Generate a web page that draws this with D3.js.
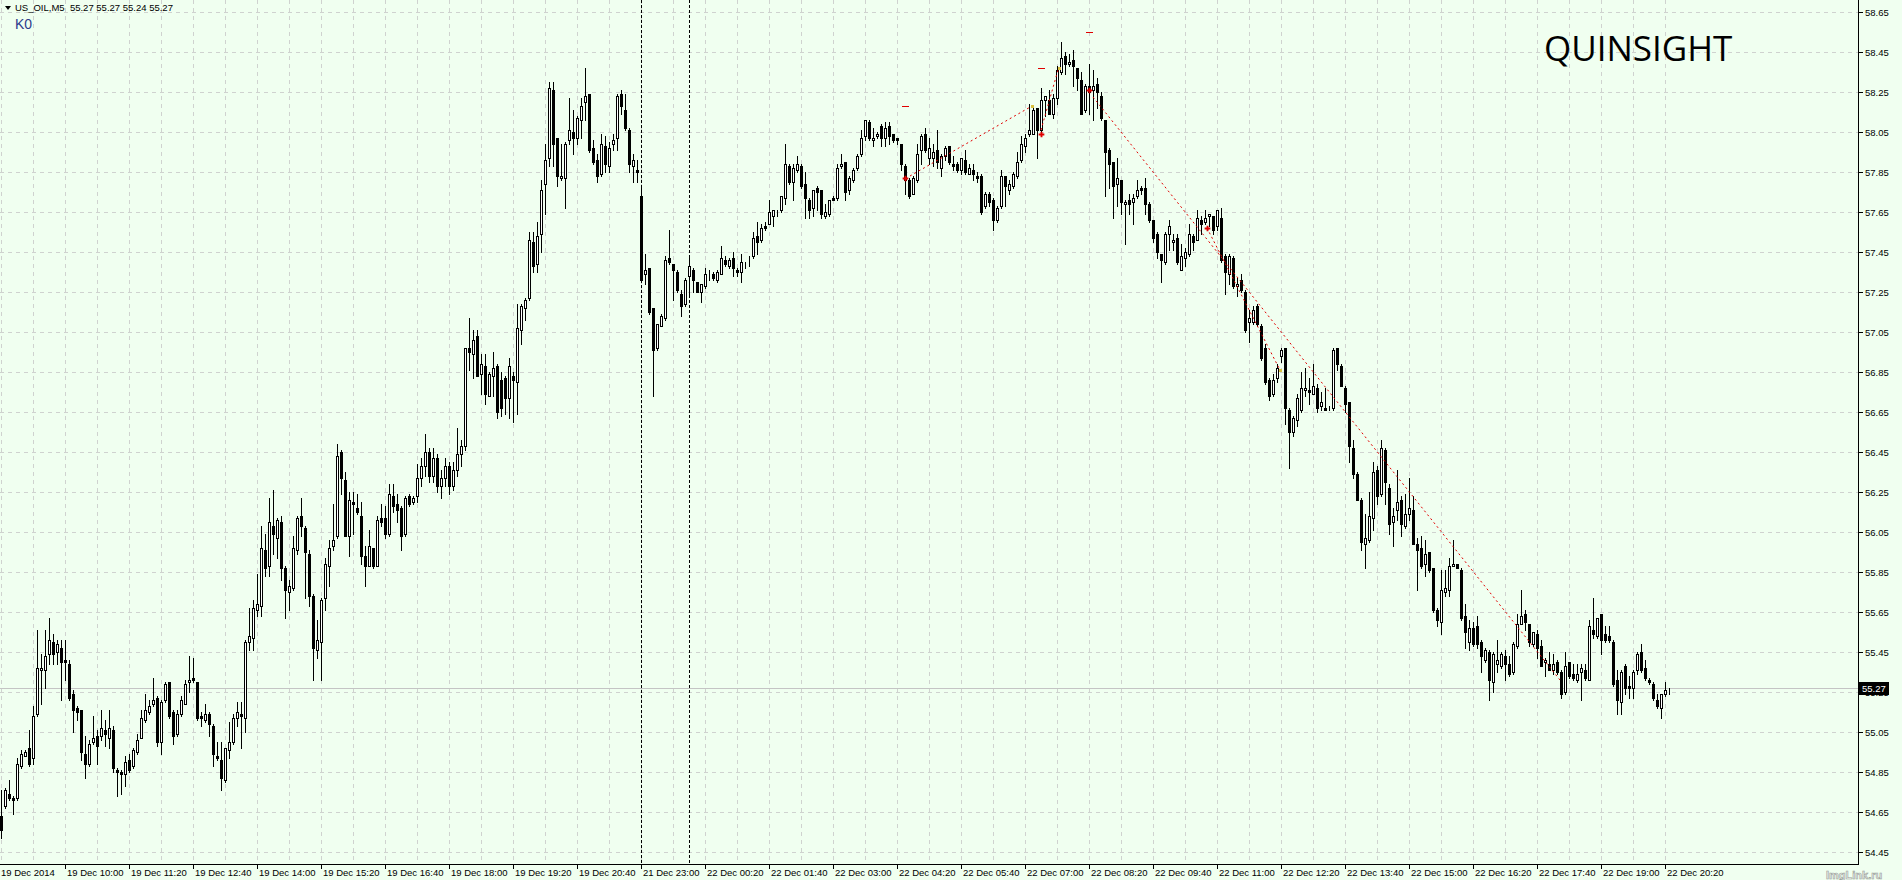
<!DOCTYPE html>
<html>
<head>
<meta charset="utf-8">
<script src="https://cdn.jsdelivr.net/npm/d3@7"></script>
<style>
html,body{margin:0;padding:0;background:#f0fff0;overflow:hidden}
text{font-family:"Liberation Sans",Arial,sans-serif}
</style>
</head>
<body>
<svg id="chart" width="1902" height="880"></svg>
<script>
// US_OIL M5 bars (oldest first)
let opens=[
54.63,54.68,54.74,54.72,54.72,54.88,54.93,54.97,54.92,55.14,55.36,55.36,55.44,55.50,55.45,55.47,55.41,55.39,55.24,55.17,
55.16,54.94,54.89,55.00,55.03,55.03,55.06,55.02,55.06,54.86,54.85,54.84,54.91,54.88,54.95,55.02,55.11,55.15,55.19,55.22,
55.00,55.21,55.30,55.15,55.04,55.14,55.19,55.30,55.32,55.30,55.13,55.11,55.14,55.08,54.93,54.91,54.81,54.96,55.00,55.12,
55.14,55.12,55.50,55.52,55.66,55.68,55.96,55.88,56.08,56.02,56.10,55.87,55.75,55.77,55.96,56.13,56.07,55.94,55.73,55.46,
55.50,55.72,55.88,55.98,56.03,56.45,56.31,56.03,56.20,56.17,56.13,55.93,55.88,55.97,55.88,56.12,56.12,56.04,56.23,56.19,
56.17,56.04,56.23,56.20,56.23,56.32,56.38,56.45,56.33,56.42,56.28,56.32,56.38,56.28,56.36,56.44,56.48,56.97,56.94,57.03,
56.84,56.88,56.73,56.83,56.88,56.81,56.82,56.72,56.83,56.80,57.06,57.17,57.22,57.50,57.39,57.54,57.79,57.92,58.26,58.02,
57.82,57.82,58.01,58.05,58.02,58.11,58.20,58.24,57.97,57.91,57.84,57.98,57.88,57.99,58.02,58.24,58.16,58.06,57.88,57.86,
57.73,57.34,57.37,57.17,56.97,57.08,57.12,57.42,57.39,57.35,57.24,57.19,57.33,57.36,57.30,57.25,57.28,57.35,57.34,57.31,
57.34,57.41,57.38,57.42,57.36,57.35,57.39,57.42,57.43,57.53,57.51,57.58,57.59,57.63,57.65,57.66,57.72,57.88,57.80,57.86,
57.88,57.79,57.71,57.67,57.77,57.76,57.63,57.64,57.72,57.72,57.88,57.90,57.76,57.81,57.87,57.94,58.03,58.10,58.01,58.03,
58.08,58.02,58.08,58.04,58.02,57.99,57.88,57.81,57.74,57.81,57.96,58.04,57.92,57.92,57.96,57.87,57.93,57.98,57.89,57.89,
57.86,57.91,57.84,57.86,57.83,57.83,57.68,57.74,57.71,57.61,57.68,57.83,57.76,57.78,57.83,57.91,57.98,58.04,58.04,58.17,
58.06,58.21,58.21,58.14,58.22,58.35,58.43,58.39,58.41,58.37,58.31,58.16,58.28,58.26,58.29,58.23,58.11,57.96,57.90,57.79,
57.81,57.69,57.71,57.70,57.73,57.77,57.77,57.69,57.61,57.54,57.44,57.40,57.54,57.50,57.52,57.36,57.42,57.44,57.53,57.51,
57.61,57.60,57.63,57.63,57.58,57.62,57.43,57.34,57.42,57.28,57.31,57.25,57.10,57.10,57.18,57.08,56.97,56.81,56.74,56.82,
56.93,56.97,56.66,56.55,56.61,56.66,56.76,56.76,56.74,56.77,56.68,56.67,56.66,56.67,56.97,56.88,56.77,56.70,56.47,56.34,
56.21,55.99,56.01,56.12,56.36,56.24,56.46,56.27,56.10,56.16,56.21,56.08,56.14,56.16,55.99,55.97,55.89,55.95,55.87,55.66,
55.60,55.75,55.76,55.88,55.89,55.86,55.63,55.50,55.57,55.58,55.50,55.41,55.45,55.30,55.39,55.38,55.43,55.39,55.35,55.48,
55.59,55.64,55.59,55.49,55.54,55.48,55.40,55.39,55.36,55.40,55.35,55.25,55.40,55.34,55.31,55.35,55.36,55.31,55.56,55.53,
55.64,55.54,55.53,55.50,55.31,55.20,55.38,55.28,55.27,55.36,55.45,55.37,55.31,55.29,55.21,55.17,55.24,55.27];
let highs=[
54.76,54.77,54.81,54.73,54.92,54.96,54.96,55.06,55.18,55.56,55.44,55.56,55.62,55.54,55.51,55.51,55.51,55.41,55.26,55.18,
55.16,55.03,55.01,55.13,55.06,55.16,55.11,55.16,55.08,54.87,54.86,54.93,54.94,54.97,55.04,55.16,55.24,55.21,55.32,55.23,
55.21,55.30,55.30,55.16,55.16,55.23,55.31,55.43,55.42,55.30,55.15,55.19,55.15,55.09,55.00,55.00,54.97,55.10,55.14,55.20,
55.20,55.51,55.67,55.71,55.84,56.08,56.04,56.22,56.26,56.12,56.13,55.88,55.81,56.03,56.13,56.22,56.08,55.96,55.74,55.61,
55.72,55.92,56.01,56.19,56.49,56.46,56.35,56.25,56.25,56.24,56.20,55.98,56.06,55.97,56.13,56.19,56.18,56.29,56.29,56.24,
56.18,56.23,56.24,56.23,56.39,56.42,56.54,56.47,56.47,56.44,56.36,56.42,56.40,56.40,56.57,56.51,56.97,57.12,57.06,57.06,
56.94,56.94,56.85,56.95,56.89,56.85,56.83,56.92,56.85,57.19,57.19,57.22,57.55,57.55,57.60,57.81,57.99,58.30,58.30,58.02,
57.99,58.00,58.22,58.16,58.13,58.22,58.37,58.24,58.01,57.94,58.04,58.03,58.00,58.04,58.24,58.26,58.24,58.07,57.94,57.91,
57.78,57.44,57.37,57.17,57.09,57.14,57.43,57.56,57.39,57.36,57.26,57.32,57.43,57.37,57.30,57.29,57.37,57.36,57.35,57.36,
57.48,57.43,57.42,57.45,57.37,57.44,57.40,57.43,57.55,57.60,57.59,57.60,57.71,57.66,57.66,57.73,57.99,57.89,57.89,57.93,
57.89,57.85,57.72,57.76,57.78,57.76,57.69,57.71,57.73,57.89,57.94,57.90,57.83,57.87,57.94,58.06,58.11,58.11,58.07,58.05,
58.09,58.10,58.10,58.04,58.02,57.99,57.89,57.82,57.83,57.99,58.04,58.07,58.02,57.99,58.06,57.94,57.98,57.98,57.93,57.90,
57.92,57.96,57.89,57.89,57.85,57.84,57.75,57.75,57.72,57.68,57.86,57.83,57.81,57.85,57.95,58.03,58.04,58.19,58.18,58.17,
58.27,58.23,58.26,58.24,58.38,58.50,58.45,58.44,58.46,58.37,58.35,58.29,58.39,58.36,58.32,58.25,58.11,57.97,57.90,57.92,
57.81,57.71,57.74,57.74,57.81,57.78,57.82,57.70,57.61,57.55,57.44,57.55,57.61,57.54,57.54,57.49,57.47,57.59,57.54,57.66,
57.63,57.66,57.64,57.63,57.66,57.67,57.44,57.44,57.43,57.32,57.34,57.26,57.16,57.18,57.19,57.09,56.99,56.82,56.84,56.89,
56.97,56.97,56.67,56.63,56.74,56.85,56.87,56.82,56.89,56.79,56.75,56.77,56.68,56.97,56.97,56.89,56.78,56.70,56.51,56.35,
56.22,56.14,56.25,56.40,56.38,56.51,56.47,56.29,56.17,56.36,56.23,56.24,56.32,56.23,56.02,56.03,56.01,55.95,55.87,55.67,
55.86,55.86,55.92,56.01,55.89,55.87,55.69,55.61,55.60,55.63,55.51,55.47,55.46,55.45,55.51,55.45,55.46,55.43,55.50,55.64,
55.76,55.66,55.59,55.55,55.56,55.51,55.42,55.45,55.44,55.41,55.36,55.45,55.40,55.39,55.39,55.39,55.39,55.61,55.72,55.62,
55.64,55.58,55.58,55.51,55.36,55.36,55.39,55.33,55.36,55.45,55.49,55.41,55.32,55.30,55.24,55.24,55.30,55.27];
let lows=[
54.52,54.67,54.71,54.64,54.71,54.87,54.93,54.88,54.89,55.13,55.19,55.27,55.39,55.39,55.39,55.21,55.31,55.21,55.05,55.11,
54.91,54.82,54.88,54.99,54.89,55.01,54.98,54.97,54.85,54.73,54.74,54.78,54.85,54.87,54.94,55.02,55.10,55.14,55.18,54.98,
54.94,55.20,55.12,54.99,55.03,55.13,55.19,55.25,55.30,55.11,55.08,55.10,55.03,54.88,54.91,54.76,54.80,54.92,54.99,55.08,
54.97,55.05,55.46,55.46,55.63,55.63,55.83,55.83,55.94,55.92,55.81,55.62,55.66,55.76,55.94,56.03,55.72,55.68,55.31,55.42,
55.31,55.66,55.78,55.96,56.02,56.24,56.03,55.93,56.04,56.14,55.89,55.78,55.88,55.87,55.88,56.08,56.02,56.03,56.15,56.10,
55.96,56.03,56.18,56.19,56.20,56.28,56.33,56.30,56.30,56.25,56.22,56.28,56.24,56.26,56.33,56.38,56.46,56.86,56.82,56.83,
56.74,56.69,56.73,56.73,56.62,56.63,56.64,56.62,56.60,56.64,56.99,57.11,57.21,57.35,57.35,57.45,57.64,57.88,57.88,57.78,
57.81,57.67,57.99,57.94,57.99,58.02,58.11,57.95,57.89,57.80,57.83,57.85,57.85,57.96,57.96,58.14,58.06,57.85,57.80,57.80,
57.31,57.29,57.14,56.73,56.96,57.08,57.11,57.39,57.21,57.25,57.13,57.18,57.24,57.25,57.25,57.20,57.27,57.31,57.31,57.30,
57.34,57.38,57.37,57.33,57.33,57.30,57.37,57.38,57.42,57.44,57.50,57.56,57.59,57.58,57.63,57.65,57.69,57.79,57.71,57.85,
57.77,57.62,57.62,57.63,57.66,57.62,57.62,57.63,57.71,57.71,57.87,57.71,57.74,57.80,57.86,57.93,58.01,58.01,57.98,58.02,
57.98,57.98,57.99,58.00,57.99,57.86,57.74,57.72,57.74,57.80,57.89,57.95,57.89,57.88,57.87,57.83,57.91,57.89,57.86,57.85,
57.84,57.84,57.84,57.81,57.80,57.64,57.67,57.68,57.56,57.60,57.67,57.68,57.74,57.77,57.82,57.90,57.95,58.03,58.04,57.92,
58.05,58.13,58.14,58.12,58.19,58.34,58.34,58.38,58.28,58.26,58.14,58.15,58.14,58.11,58.17,58.11,57.73,57.77,57.62,57.68,
57.64,57.49,57.64,57.59,57.72,57.74,57.64,57.60,57.50,57.42,57.30,57.39,57.46,57.46,57.39,57.36,57.38,57.43,57.46,57.51,
57.54,57.59,57.58,57.54,57.56,57.40,57.24,57.29,57.27,57.23,57.25,57.05,57.00,57.09,57.08,56.91,56.79,56.71,56.73,56.80,
56.90,56.59,56.37,56.53,56.58,56.65,56.73,56.69,56.74,56.65,56.66,56.66,56.66,56.66,56.86,56.78,56.65,56.40,56.32,56.21,
55.96,55.87,56.00,56.06,56.19,56.23,56.19,56.04,55.98,56.11,56.03,56.07,56.11,55.99,55.76,55.87,55.83,55.85,55.65,55.58,
55.54,55.73,55.73,55.88,55.87,55.61,55.47,55.46,55.48,55.47,55.35,55.40,55.21,55.25,55.35,55.37,55.31,55.33,55.34,55.47,
55.59,55.56,55.48,55.48,55.42,55.38,55.33,55.36,55.34,55.34,55.22,55.24,55.32,55.31,55.30,55.21,55.31,55.31,55.52,55.52,
55.44,55.50,55.50,55.28,55.14,55.14,55.24,55.22,55.22,55.34,55.35,55.31,55.29,55.21,55.17,55.12,55.23,55.24];
let closes=[
54.56,54.76,54.72,54.71,54.89,54.94,54.95,54.89,55.13,55.37,55.37,55.43,55.51,55.44,55.49,55.40,55.40,55.22,55.16,55.15,
54.95,54.89,54.99,55.02,54.98,55.07,55.04,55.07,54.87,54.85,54.84,54.90,54.86,54.96,55.01,55.12,55.16,55.18,55.21,55.00,
55.20,55.29,55.13,55.03,55.14,55.21,55.29,55.31,55.31,55.12,55.12,55.14,55.09,54.94,54.92,54.82,54.97,55.00,55.12,55.15,
55.13,55.50,55.53,55.67,55.69,55.97,55.87,56.10,56.04,56.11,55.87,55.76,55.78,55.97,56.12,56.08,55.95,55.73,55.47,55.51,
55.71,55.89,55.97,56.01,56.43,56.32,56.03,56.21,56.19,56.15,55.93,55.88,55.98,55.88,56.11,56.10,56.04,56.24,56.18,56.16,
56.03,56.22,56.19,56.22,56.32,56.38,56.45,56.33,56.42,56.28,56.32,56.38,56.28,56.36,56.44,56.48,56.97,56.95,57.01,56.83,
56.89,56.74,56.84,56.87,56.65,56.67,56.72,56.88,56.81,57.07,57.18,57.21,57.51,57.38,57.53,57.76,57.91,58.27,57.99,57.83,
57.83,57.99,58.06,58.02,58.12,58.18,58.23,57.96,57.90,57.83,57.99,57.89,57.97,58.01,58.23,58.18,58.07,57.89,57.91,57.85,
57.31,57.36,57.15,56.96,57.09,57.13,57.41,57.40,57.36,57.26,57.18,57.31,57.38,57.31,57.25,57.29,57.34,57.35,57.32,57.35,
57.42,57.39,57.41,57.37,57.35,57.40,57.39,57.42,57.52,57.50,57.57,57.57,57.65,57.66,57.65,57.73,57.89,57.80,57.87,57.89,
57.78,57.72,57.66,57.76,57.75,57.64,57.65,57.71,57.71,57.87,57.89,57.75,57.82,57.86,57.93,58.02,58.11,58.02,58.02,58.04,
58.02,58.07,58.03,58.01,58.01,57.89,57.81,57.73,57.82,57.94,58.03,57.96,57.97,57.95,57.90,57.93,57.97,57.90,57.88,57.86,
57.92,57.85,57.87,57.84,57.82,57.65,57.74,57.70,57.61,57.67,57.83,57.78,57.79,57.84,57.90,57.99,58.02,58.06,58.16,58.06,
58.21,58.23,58.14,58.22,58.36,58.42,58.39,58.40,58.38,58.32,58.14,58.28,58.25,58.28,58.25,58.12,57.95,57.89,57.78,57.82,
57.70,57.70,57.69,57.72,57.76,57.76,57.69,57.61,57.52,57.45,57.41,57.54,57.58,57.51,57.40,57.43,57.45,57.54,57.50,57.62,
57.59,57.62,57.64,57.56,57.66,57.41,57.35,57.43,57.28,57.29,57.26,57.06,57.12,57.16,57.09,56.92,56.80,56.73,56.81,56.87,
56.96,56.67,56.55,56.62,56.72,56.77,56.77,56.75,56.78,56.67,56.70,56.66,56.66,56.96,56.89,56.78,56.69,56.48,56.34,56.21,
56.00,56.02,56.13,56.35,56.23,56.47,56.30,56.09,56.13,56.20,56.09,56.14,56.17,55.99,55.96,55.88,55.94,55.86,55.66,55.61,
55.76,55.77,55.88,55.89,55.87,55.62,55.55,55.57,55.49,55.49,55.43,55.46,55.31,55.44,55.41,55.44,55.39,55.34,55.49,55.59,
55.63,55.60,55.50,55.55,55.47,55.38,55.41,55.36,55.39,55.35,55.24,55.38,55.33,55.32,55.34,55.37,55.32,55.58,55.54,55.62,
55.51,55.51,55.51,55.29,55.21,55.35,55.27,55.27,55.35,55.44,55.36,55.32,55.30,55.22,55.18,55.24,55.26,55.27];

let priceTicks=[54.45,54.65,54.85,55.05,55.25,55.45,55.65,55.85,56.05,56.25,56.45,56.65,56.85,57.05,57.25,57.45,57.65,57.85,58.05,58.25,58.45,58.65];
let timeLabels=["19 Dec 2014","19 Dec 10:00","19 Dec 11:20","19 Dec 12:40","19 Dec 14:00","19 Dec 15:20","19 Dec 16:40",
"19 Dec 18:00","19 Dec 19:20","19 Dec 20:40","21 Dec 23:00","22 Dec 00:20","22 Dec 01:40","22 Dec 03:00","22 Dec 04:20",
"22 Dec 05:40","22 Dec 07:00","22 Dec 08:20","22 Dec 09:40","22 Dec 11:00","22 Dec 12:20","22 Dec 13:40","22 Dec 15:00",
"22 Dec 16:20","22 Dec 17:40","22 Dec 19:00","22 Dec 20:20"];
let separatorBars=[160,172];   // day separators
let lastPrice=55.27;

// objects drawn on the chart: [bar, price]
let trendLines=[[[227.25,57.83],[257.75,58.18]],[[260,58.06],[264.25,58.36]],[[273,58.225],[389.75,55.31]],[[301.5,57.57],[319.75,56.86]]];
let redDashes=[[226,58.18],[260,58.37],[272,58.55]];
let redStars=[[226,57.82],[260,58.04],[272,58.26],[301.5,57.57]];
let yellowDots=[[257.75,58.18],[264.5,58.37],[319.75,56.86]];

const W=1902,H=880,plotR=1858,plotB=864;
const svg=d3.select("#chart");
const n=opens.length;
const x=d3.scaleLinear().domain([0,n-1]).range([1,1+4*(n-1)]);
const y=d3.scaleLinear().domain([54.45,58.65]).range([852,12]);

svg.append("rect").attr("width",W).attr("height",H).attr("fill","#f0fff0");

// grid
let grid=svg.append("g").attr("stroke","#cfd2cf").attr("stroke-dasharray","4,4").attr("stroke-width",1);
grid.selectAll(".hg").data(priceTicks).enter().append("line")
  .attr("x1",0).attr("x2",plotR).attr("y1",d=>Math.round(y(d))+0.5).attr("y2",d=>Math.round(y(d))+0.5);
grid.selectAll(".vg").data(d3.range(0,n,8)).enter().append("line")
  .attr("x1",d=>x(d)+0.5).attr("x2",d=>x(d)+0.5).attr("y1",0).attr("y2",plotB);

// last price line
svg.append("line").attr("x1",0).attr("x2",plotR).attr("y1",Math.round(y(lastPrice))+0.5).attr("y2",Math.round(y(lastPrice))+0.5)
  .attr("stroke","#c4c4c4");

// day separators
svg.selectAll(".sep").data(separatorBars).enter().append("line")
  .attr("x1",d=>x(d)+0.5).attr("x2",d=>x(d)+0.5).attr("y1",0).attr("y2",plotB)
  .attr("stroke","#000").attr("stroke-dasharray","3,2");

// candles
let bars=d3.range(n).map(i=>({i:i,o:opens[i],h:highs[i],l:lows[i],c:closes[i]}));
let cg=svg.append("g");
let cand=cg.selectAll("g").data(bars).enter().append("g");
cand.append("line")
  .attr("x1",d=>x(d.i)+0.5).attr("x2",d=>x(d.i)+0.5)
  .attr("y1",d=>Math.round(y(d.h))).attr("y2",d=>Math.round(y(d.l))+1)
  .attr("stroke","#000");
cand.append("rect")
  .attr("x",d=>x(d.i)-0.5).attr("width",2)
  .attr("y",d=>Math.round(y(Math.max(d.o,d.c)))+0.5)
  .attr("height",d=>Math.max(0,Math.round(y(Math.min(d.o,d.c)))-Math.round(y(Math.max(d.o,d.c)))))
  .attr("fill",d=>d.c>=d.o?"#fff":"#000").attr("stroke","#000");

// chart objects
svg.selectAll(".tl").data(trendLines).enter().append("line")
  .attr("x1",d=>x(d[0][0])).attr("y1",d=>y(d[0][1])).attr("x2",d=>x(d[1][0])).attr("y2",d=>y(d[1][1]))
  .attr("stroke","#e00000").attr("stroke-dasharray","2,3");
svg.selectAll(".rd").data(redDashes).enter().append("line")
  .attr("x1",d=>x(d[0])-3).attr("x2",d=>x(d[0])+4).attr("y1",d=>Math.round(y(d[1]))+0.5).attr("y2",d=>Math.round(y(d[1]))+0.5)
  .attr("stroke","#e00000").attr("stroke-width",1);
svg.selectAll(".rs").data(redStars).enter().append("path")
  .attr("transform",d=>`translate(${x(d[0])+0.5},${Math.round(y(d[1]))+0.5})`)
  .attr("d",d3.symbol(d3.symbolCross,18)).attr("fill","#e00000");
svg.selectAll(".yd").data(yellowDots).enter().append("rect")
  .attr("x",d=>x(d[0])-1).attr("y",d=>Math.round(y(d[1]))-1).attr("width",3).attr("height",3)
  .attr("fill","#d8c040");

// frame
svg.append("line").attr("x1",plotR+0.5).attr("x2",plotR+0.5).attr("y1",0).attr("y2",plotB+1).attr("stroke","#000");
svg.append("line").attr("x1",0).attr("x2",plotR+1).attr("y1",plotB+0.5).attr("y2",plotB+0.5).attr("stroke","#000");

// price scale
let ps=svg.append("g");
ps.selectAll("line").data(priceTicks).enter().append("line")
  .attr("x1",plotR+1).attr("x2",plotR+5).attr("y1",d=>Math.round(y(d))+0.5).attr("y2",d=>Math.round(y(d))+0.5).attr("stroke","#000");
ps.selectAll("text").data(priceTicks).enter().append("text")
  .attr("x",plotR+7).attr("y",d=>Math.round(y(d))+3.5).attr("font-size",9.5).attr("fill","#000")
  .text(d=>d3.format(".2f")(d));
svg.append("rect").attr("x",plotR+1).attr("y",Math.round(y(lastPrice))-6).attr("width",30).attr("height",13).attr("fill","#000");
svg.append("text").attr("x",plotR+4).attr("y",Math.round(y(lastPrice))+4).attr("font-size",9.5).attr("fill","#fff")
  .text(d3.format(".2f")(lastPrice));

// time scale
let ts=svg.append("g");
let tIdx=timeLabels.map((t,k)=>({t:t,b:k*16}));
ts.selectAll("line").data(tIdx.slice(1)).enter().append("line")
  .attr("x1",d=>x(d.b)+0.5).attr("x2",d=>x(d.b)+0.5).attr("y1",plotB+1).attr("y2",plotB+5).attr("stroke","#000");
ts.selectAll("text").data(tIdx).enter().append("text")
  .attr("x",d=>d.b===0?1:x(d.b)+2).attr("y",876).attr("font-size",9.5).attr("fill","#000").text(d=>d.t);

// header
let last=bars[n-1];
svg.append("path").attr("d","M5,6 L11,6 L8,10 Z").attr("fill","#000");
svg.append("text").attr("x",15).attr("y",11).attr("font-size",9.5).attr("fill","#000")
  .attr("xml:space","preserve")
  .text("US_OIL,M5  "+[last.o,last.h,last.l,last.c].map(d3.format(".2f")).join(" "));
svg.append("text").attr("x",15).attr("y",29).attr("font-size",14).attr("fill","#2d3a8c").text("K0");

svg.append("text").attr("x",1544).attr("y",61).attr("font-size",35)
  .style("font-family","'Open Sans',sans-serif").attr("fill","#000").text("QUINSIGHT");

svg.append("text").attr("x",1826).attr("y",879).attr("font-size",11).attr("font-weight","bold")
  .attr("fill","#eef2ee").attr("stroke","#9aa09a").attr("stroke-width",0.6).text("ImgLink.ru");
</script>
</body>
</html>
